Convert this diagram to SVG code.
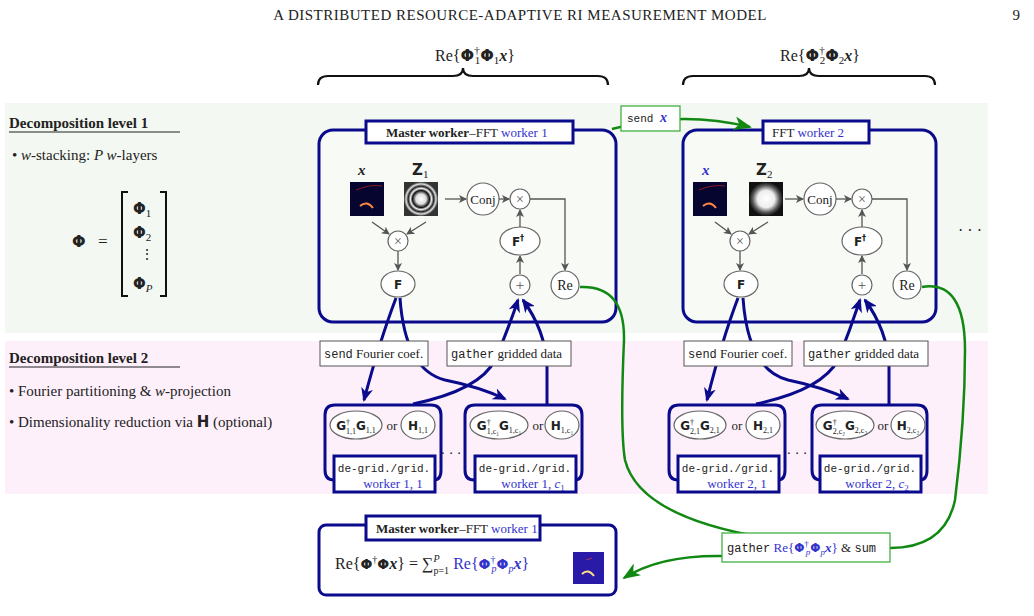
<svg xmlns="http://www.w3.org/2000/svg" width="1034" height="616" viewBox="0 0 1034 616">
<style>
text{font-family:"Liberation Serif",serif;font-size:14px;fill:#222}
.b{font-weight:bold}
.s{font-family:"DejaVu Sans",sans-serif;font-weight:bold}
.m{font-family:"Liberation Mono",monospace;font-size:12px}
.bl{fill:#3333cc}
.wk{fill:#fff;stroke:#0a0a8c;stroke-width:3}
.ttl{fill:#fff;stroke:#0a0a8c;stroke-width:3}
.op{fill:#fff;stroke:#666;stroke-width:1.2}
.g{fill:none;stroke:#555;stroke-width:1.3}
.bc{fill:none;stroke:#0a0a8c;stroke-width:3}
.gc{fill:none;stroke:#118811;stroke-width:2.5}
.lb{fill:#fff;stroke:#555;stroke-width:1}
.gb{fill:#fff;stroke:#33aa33;stroke-width:1.2}
.br{fill:none;stroke:#111;stroke-width:2.2}
</style>
<defs>
<marker id="ga" markerWidth="8" markerHeight="8" refX="7" refY="4" orient="auto" markerUnits="userSpaceOnUse"><path d="M0,0L8,4L0,8L2,4z" fill="#555"/></marker>
<marker id="ba" markerWidth="14" markerHeight="12" refX="12" refY="6" orient="auto" markerUnits="userSpaceOnUse"><path d="M0,0L14,6L0,12L4,6z" fill="#0a0a8c"/></marker>
<marker id="gra" markerWidth="18" markerHeight="14" refX="16" refY="7" orient="auto" markerUnits="userSpaceOnUse"><path d="M0,0L18,7L0,14L5,7z" fill="#118811"/></marker>
<radialGradient id="zr"><stop offset="0" stop-color="#fff"/><stop offset="0.3" stop-color="#ddd"/><stop offset="0.5" stop-color="#111"/><stop offset="0.62" stop-color="#eee"/><stop offset="0.75" stop-color="#222"/><stop offset="0.88" stop-color="#ddd"/><stop offset="1" stop-color="#333"/></radialGradient>
<radialGradient id="zr2"><stop offset="0" stop-color="#fff"/><stop offset="0.5" stop-color="#eee"/><stop offset="0.8" stop-color="#555"/><stop offset="1" stop-color="#111"/></radialGradient>
<g id="ximg"><rect width="34" height="34" fill="#050530"/><path d="M6,8Q20,2 32,4" stroke="#b02020" fill="none" stroke-width="0.8"/><path d="M10,24Q17,18 23,26" stroke="#ff8844" fill="none" stroke-width="2"/></g>
</defs>

<text x="520" y="20" text-anchor="middle" style="font-size:15px;letter-spacing:0.5px">A DISTRIBUTED RESOURCE-ADAPTIVE RI MEASUREMENT MODEL</text>
<text x="1020" y="20" text-anchor="end" style="font-size:15px">9</text>

<rect x="5" y="103" width="983" height="230" fill="#f4f8f2"/>
<rect x="5" y="341" width="983" height="153" fill="#fdf0fb"/>

<path class="br" d="M318,85Q318,76 328,76H453Q463,76 463,68Q463,76 473,76H598Q608,76 608,85"/>
<path class="br" d="M683,85Q683,76 693,76H799Q809,76 809,68Q809,76 819,76H925Q935,76 935,85"/>
<text x="475" y="61" text-anchor="middle" style="font-size:16px">Re{<tspan class="s">Φ</tspan><tspan font-size="11" dy="-7">†</tspan><tspan font-size="11" dx="-5" dy="10">1</tspan><tspan class="s" dy="-3">Φ</tspan><tspan font-size="11" dy="3">1</tspan><tspan class="b" font-style="italic" dy="-3">x</tspan>}</text>
<text x="820" y="61" text-anchor="middle" style="font-size:16px">Re{<tspan class="s">Φ</tspan><tspan font-size="11" dy="-7">†</tspan><tspan font-size="11" dx="-5" dy="10">2</tspan><tspan class="s" dy="-3">Φ</tspan><tspan font-size="11" dy="3">2</tspan><tspan class="b" font-style="italic" dy="-3">x</tspan>}</text>

<text x="9" y="128" class="b" style="font-size:15px">Decomposition level 1</text>
<line x1="9" y1="132" x2="180" y2="132" stroke="#222"/>
<text x="12" y="160" style="font-size:15px">•  <tspan font-style="italic">w</tspan>-stacking: <tspan font-style="italic">P w</tspan>-layers</text>
<text x="72" y="247" class="s" style="font-size:16px">Φ</text>
<text x="98" y="247" style="font-size:17px">=</text>
<path d="M128,192H122V296H128M160,192H166V296H160" fill="none" stroke="#111" stroke-width="2"/>
<text x="133" y="214" class="s" style="font-size:15px">Φ<tspan font-family="Liberation Serif" font-weight="normal" font-size="11" dy="3">1</tspan></text>
<text x="133" y="238" class="s" style="font-size:15px">Φ<tspan font-family="Liberation Serif" font-weight="normal" font-size="11" dy="3">2</tspan></text>
<text x="140" y="259" style="font-size:14px">⋮</text>
<text x="133" y="289" class="s" style="font-size:15px">Φ<tspan font-family="Liberation Serif" font-weight="normal" font-style="italic" font-size="11" dy="3">P</tspan></text>

<text x="9" y="363" class="b" style="font-size:15px">Decomposition level 2</text>
<line x1="9" y1="367" x2="180" y2="367" stroke="#222"/>
<text x="9" y="396" style="font-size:15px">• Fourier partitioning &amp; <tspan font-style="italic">w</tspan>-projection</text>
<text x="9" y="427" style="font-size:15px">• Dimensionality reduction via <tspan class="s">H</tspan> (optional)</text>

<g id="master1">
<rect x="319" y="130" width="297" height="192" rx="14" class="wk" style="fill:#f8faf6"/>
<rect x="366" y="121" width="207" height="22" class="ttl"/>
<text x="386" y="137" style="font-size:13px"><tspan class="b">Master worker</tspan>–FFT <tspan class="bl">worker 1</tspan></text>
<text x="358" y="175" class="b" font-style="italic" style="font-size:15px">x</text>
<text x="412" y="175" class="s" style="font-size:15px">Z<tspan font-family="Liberation Serif" font-weight="normal" font-size="11" dy="3">1</tspan></text>
<use href="#ximg" x="350" y="182"/>
<rect x="404" y="182" width="34" height="34" fill="url(#zr)"/>
<circle cx="483" cy="199" r="16" class="op"/><text x="483" y="204" text-anchor="middle" style="font-size:13px">Conj</text>
<circle cx="520" cy="199" r="10" class="op"/><text x="520" y="204" text-anchor="middle" style="font-size:14px;fill:#555">×</text>
<circle cx="398" cy="241" r="10" class="op"/><text x="398" y="246" text-anchor="middle" style="font-size:14px;fill:#555">×</text>
<ellipse cx="398" cy="284" rx="17" ry="13" class="op"/><text x="398" y="289" text-anchor="middle" class="s" style="font-size:12px">F</text>
<ellipse cx="520" cy="241" rx="20" ry="14" class="op"/><text x="518" y="246" text-anchor="middle" class="s" style="font-size:12px">F<tspan font-size="8" dy="-5">†</tspan></text>
<circle cx="520" cy="285" r="10" class="op"/><text x="520" y="290" text-anchor="middle" style="font-size:15px;fill:#555">+</text>
<circle cx="565" cy="285" r="14" class="op"/><text x="565" y="290" text-anchor="middle" style="font-size:14px">Re</text>
<path class="g" marker-end="url(#ga)" d="M372,222L389,234"/>
<path class="g" marker-end="url(#ga)" d="M426,222L407,234"/>
<path class="g" marker-end="url(#ga)" d="M398,251V270"/>
<path class="g" marker-end="url(#ga)" d="M445,199H466"/>
<path class="g" marker-end="url(#ga)" d="M499,199H509"/>
<path class="g" marker-end="url(#ga)" d="M520,274V256"/>
<path class="g" marker-end="url(#ga)" d="M520,227V210"/>
<path class="g" marker-end="url(#ga)" d="M530,199H565V270"/>
</g>

<g id="worker2">
<rect x="683" y="130" width="253" height="192" rx="14" class="wk" style="fill:#f8faf6"/>
<rect x="763" y="121" width="106" height="22" class="ttl"/>
<text x="772" y="137" style="font-size:13px">FFT <tspan class="bl">worker 2</tspan></text>
<text x="702" y="175" class="b bl" font-style="italic" style="font-size:15px">x</text>
<text x="756" y="175" class="s" style="font-size:15px">Z<tspan font-family="Liberation Serif" font-weight="normal" font-size="11" dy="3">2</tspan></text>
<use href="#ximg" x="693" y="182"/>
<rect x="749" y="182" width="34" height="34" fill="url(#zr2)"/>
<circle cx="820" cy="199" r="16" class="op"/><text x="820" y="204" text-anchor="middle" style="font-size:13px">Conj</text>
<circle cx="862" cy="199" r="10" class="op"/><text x="862" y="204" text-anchor="middle" style="font-size:14px;fill:#555">×</text>
<circle cx="740" cy="241" r="10" class="op"/><text x="740" y="246" text-anchor="middle" style="font-size:14px;fill:#555">×</text>
<ellipse cx="741" cy="284" rx="17" ry="13" class="op"/><text x="741" y="289" text-anchor="middle" class="s" style="font-size:12px">F</text>
<ellipse cx="862" cy="241" rx="20" ry="14" class="op"/><text x="860" y="246" text-anchor="middle" class="s" style="font-size:12px">F<tspan font-size="8" dy="-5">†</tspan></text>
<circle cx="862" cy="285" r="10" class="op"/><text x="862" y="290" text-anchor="middle" style="font-size:15px;fill:#555">+</text>
<circle cx="907" cy="285" r="14" class="op"/><text x="907" y="290" text-anchor="middle" style="font-size:14px">Re</text>
<path class="g" marker-end="url(#ga)" d="M715,222L731,234"/>
<path class="g" marker-end="url(#ga)" d="M768,222L749,234"/>
<path class="g" marker-end="url(#ga)" d="M740,251V270"/>
<path class="g" marker-end="url(#ga)" d="M785,199H803"/>
<path class="g" marker-end="url(#ga)" d="M836,199H851"/>
<path class="g" marker-end="url(#ga)" d="M862,274V256"/>
<path class="g" marker-end="url(#ga)" d="M862,227V210"/>
<path class="g" marker-end="url(#ga)" d="M872,199H907V270"/>
</g>
<text x="970" y="236" text-anchor="middle" style="font-size:16px">· · ·</text>

<g id="sub11">
<path class="bc" d="M334,480Q325,480 325,470V415Q325,405 335,405H431Q441,405 441,415V470Q441,480 434,480"/>
<ellipse cx="356" cy="425" rx="26" ry="14" class="op"/>
<text x="356" y="430" text-anchor="middle" class="s" style="font-size:12px">G<tspan font-family="Liberation Serif" font-weight="normal" font-size="8" dy="-5">†</tspan><tspan font-family="Liberation Serif" font-weight="normal" font-size="8" dx="-4" dy="9">1,1</tspan><tspan dy="-4">G</tspan><tspan font-family="Liberation Serif" font-weight="normal" font-size="8" dy="3">1,1</tspan></text>
<text x="392" y="430" text-anchor="middle" style="font-size:13px">or</text>
<ellipse cx="418" cy="425" rx="17" ry="14" class="op"/>
<text x="418" y="430" text-anchor="middle" class="s" style="font-size:12px">H<tspan font-family="Liberation Serif" font-weight="normal" font-size="8" dy="3">1,1</tspan></text>
<rect x="334" y="456" width="101" height="36" class="ttl"/>
<text x="384" y="472" text-anchor="middle" class="m" style="font-size:11px">de-grid./grid.</text>
<text x="393" y="488" text-anchor="middle" class="bl" style="font-size:13px">worker 1, 1</text>
</g>
<text x="451" y="458" text-anchor="middle">· · ·</text>
<g id="sub1c">
<path class="bc" d="M474,480Q465,480 465,470V415Q465,405 475,405H572Q582,405 582,415V470Q582,480 575,480"/>
<ellipse cx="499" cy="425" rx="29" ry="14" class="op"/>
<text x="499" y="430" text-anchor="middle" class="s" style="font-size:12px">G<tspan font-family="Liberation Serif" font-weight="normal" font-size="8" dy="-5">†</tspan><tspan font-family="Liberation Serif" font-weight="normal" font-size="8" dx="-4" dy="9">1,c₁</tspan><tspan dy="-4">G</tspan><tspan font-family="Liberation Serif" font-weight="normal" font-size="8" dy="3">1,c₁</tspan></text>
<text x="538" y="430" text-anchor="middle" style="font-size:13px">or</text>
<ellipse cx="562" cy="425" rx="17" ry="14" class="op"/>
<text x="562" y="430" text-anchor="middle" class="s" style="font-size:12px">H<tspan font-family="Liberation Serif" font-weight="normal" font-size="8" dy="3">1,c₁</tspan></text>
<rect x="475" y="456" width="101" height="36" class="ttl"/>
<text x="525" y="472" text-anchor="middle" class="m" style="font-size:11px">de-grid./grid.</text>
<text x="533" y="488" text-anchor="middle" class="bl" style="font-size:13px">worker 1, <tspan font-style="italic">c</tspan><tspan font-size="9" dy="3">1</tspan></text>
</g>
<g id="sub21">
<path class="bc" d="M678,480Q669,480 669,470V415Q669,405 679,405H775Q785,405 785,415V470Q785,480 778,480"/>
<ellipse cx="700" cy="425" rx="26" ry="14" class="op"/>
<text x="700" y="430" text-anchor="middle" class="s" style="font-size:12px">G<tspan font-family="Liberation Serif" font-weight="normal" font-size="8" dy="-5">†</tspan><tspan font-family="Liberation Serif" font-weight="normal" font-size="8" dx="-4" dy="9">2,1</tspan><tspan dy="-4">G</tspan><tspan font-family="Liberation Serif" font-weight="normal" font-size="8" dy="3">2,1</tspan></text>
<text x="737" y="430" text-anchor="middle" style="font-size:13px">or</text>
<ellipse cx="763" cy="425" rx="17" ry="14" class="op"/>
<text x="763" y="430" text-anchor="middle" class="s" style="font-size:12px">H<tspan font-family="Liberation Serif" font-weight="normal" font-size="8" dy="3">2,1</tspan></text>
<rect x="678" y="456" width="101" height="36" class="ttl"/>
<text x="728" y="472" text-anchor="middle" class="m" style="font-size:11px">de-grid./grid.</text>
<text x="737" y="488" text-anchor="middle" class="bl" style="font-size:13px">worker 2, 1</text>
</g>
<text x="797" y="458" text-anchor="middle">· · ·</text>
<g id="sub2c">
<path class="bc" d="M821,480Q812,480 812,470V415Q812,405 822,405H917Q927,405 927,415V470Q927,480 920,480"/>
<ellipse cx="845" cy="425" rx="29" ry="14" class="op"/>
<text x="845" y="430" text-anchor="middle" class="s" style="font-size:12px">G<tspan font-family="Liberation Serif" font-weight="normal" font-size="8" dy="-5">†</tspan><tspan font-family="Liberation Serif" font-weight="normal" font-size="8" dx="-4" dy="9">2,c₂</tspan><tspan dy="-4">G</tspan><tspan font-family="Liberation Serif" font-weight="normal" font-size="8" dy="3">2,c₂</tspan></text>
<text x="883" y="430" text-anchor="middle" style="font-size:13px">or</text>
<ellipse cx="908" cy="425" rx="17" ry="14" class="op"/>
<text x="908" y="430" text-anchor="middle" class="s" style="font-size:12px">H<tspan font-family="Liberation Serif" font-weight="normal" font-size="8" dy="3">2,c₂</tspan></text>
<rect x="820" y="456" width="101" height="36" class="ttl"/>
<text x="870" y="472" text-anchor="middle" class="m" style="font-size:11px">de-grid./grid.</text>
<text x="877" y="488" text-anchor="middle" class="bl" style="font-size:13px">worker 2, <tspan font-style="italic">c</tspan><tspan font-size="9" dy="3">2</tspan></text>
</g>

<g id="connectors">
<path class="bc" marker-end="url(#ba)" d="M396,298Q380,340 364,400"/>
<path class="bc" marker-end="url(#ba)" d="M400,298Q405,370 445,380Q480,387 505,399"/>
<path class="bc" marker-end="url(#ba)" d="M413,404Q480,390 495,360Q508,330 518,300"/>
<path class="bc" marker-end="url(#ba)" d="M547,405V365Q545,330 523,300"/>
<path class="bc" marker-end="url(#ba)" d="M738,298Q722,340 707,400"/>
<path class="bc" marker-end="url(#ba)" d="M743,298Q748,370 788,380Q822,387 848,399"/>
<path class="bc" marker-end="url(#ba)" d="M756,404Q822,390 838,360Q850,330 860,300"/>
<path class="bc" marker-end="url(#ba)" d="M889,405V365Q887,330 865,300"/>
<path class="gc" marker-end="url(#gra)" d="M612,129Q680,110 750,127"/>
<path class="gc" d="M580,287Q625,285 624,340Q620,430 625,460Q640,520 780,540"/>
<path class="gc" d="M922,287Q965,280 965,350Q965,420 955,500Q945,548 890,548"/>
<path class="gc" marker-end="url(#gra)" d="M722,556Q660,555 624,578"/>
</g>

<rect x="621" y="106" width="59" height="25" class="gb"/>
<text x="627" y="122" class="m" style="font-size:11px">send <tspan class="b bl" font-family="Liberation Serif" font-style="italic" font-size="14">x</tspan></text>
<g id="labels">
<rect x="320" y="341" width="108" height="25" class="lb"/><text x="324" y="358" style="font-size:13px"><tspan class="m">send</tspan> Fourier coef.</text>
<rect x="447" y="341" width="124" height="25" class="lb"/><text x="451" y="358" style="font-size:13px"><tspan class="m">gather</tspan> gridded data</text>
<rect x="684" y="341" width="108" height="25" class="lb"/><text x="688" y="358" style="font-size:13px"><tspan class="m">send</tspan> Fourier coef.</text>
<rect x="804" y="341" width="124" height="25" class="lb"/><text x="808" y="358" style="font-size:13px"><tspan class="m">gather</tspan> gridded data</text>
</g>

<g id="master-final">
<rect x="319" y="525" width="297" height="70" rx="7" class="wk"/>
<rect x="366" y="516" width="174" height="24" class="ttl"/>
<text x="376" y="533" style="font-size:13px"><tspan class="b">Master worker</tspan>–FFT <tspan class="bl">worker 1</tspan></text>
<text x="335" y="569" style="font-size:16px">Re{<tspan class="s" font-size="14">Φ</tspan><tspan font-size="10" dy="-6">†</tspan><tspan class="s" font-size="14" dy="6">Φ</tspan><tspan class="b" font-style="italic">x</tspan>} = ∑<tspan font-size="10" font-style="italic" dy="-7">P</tspan><tspan font-size="10" dx="-6" dy="12">p=1</tspan><tspan class="bl" dx="4" dy="-5">Re{<tspan class="s" font-size="14">Φ</tspan><tspan font-size="10" dy="-6">†</tspan><tspan font-size="10" font-style="italic" dx="-4" dy="9">p</tspan><tspan class="s" font-size="14" dy="-3">Φ</tspan><tspan font-size="10" font-style="italic" dy="3">p</tspan><tspan class="b" font-style="italic" dy="-3">x</tspan>}</tspan></text>
<rect x="573" y="552" width="31" height="32" fill="#2a1aa8"/>
<path d="M582,574Q588,568 594,576" stroke="#ffdd88" fill="none" stroke-width="2"/>
<path d="M586,560L592,558" stroke="#cc4444" stroke-width="0.8"/>
</g>
<rect x="722" y="533" width="168" height="29" class="gb"/>
<text x="727" y="552" style="font-size:13px"><tspan class="m">gather</tspan> <tspan class="bl">Re{<tspan class="s" font-size="12">Φ</tspan><tspan font-size="9" dy="-5">†</tspan><tspan font-size="9" font-style="italic" dx="-3" dy="8">p</tspan><tspan class="s" font-size="12" dy="-3">Φ</tspan><tspan font-size="9" font-style="italic" dy="3">p</tspan><tspan class="b" font-style="italic" dy="-3">x</tspan>}</tspan>  &amp; <tspan class="m">sum</tspan></text>
</svg>
